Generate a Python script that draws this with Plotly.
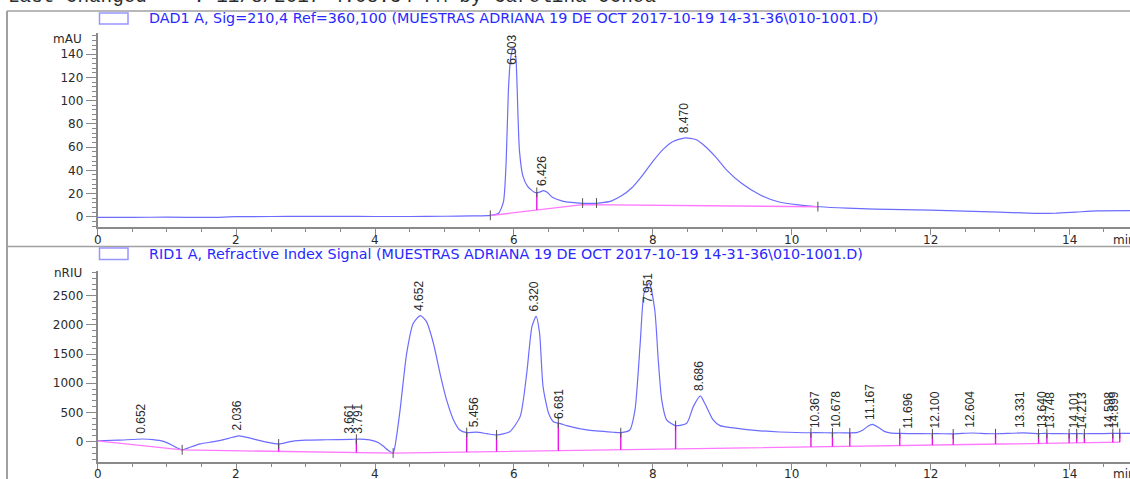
import numpy as np
import plotly.graph_objects as go

# ---------------- DAD1 A, 210 nm (mAU) ----------------
dad_time = [0.0, 0.5, 1.0, 1.6, 2.0, 2.5, 3.0, 3.5, 4.0, 4.5, 5.0, 5.4, 5.66, 5.78,
            5.85, 5.89, 5.92, 5.95, 5.98, 6.003, 6.03, 6.06, 6.08, 6.13, 6.20, 6.30,
            6.36, 6.426, 6.48, 6.56, 6.70, 6.90, 7.10, 7.25, 7.40, 7.55, 7.70, 7.85,
            8.00, 8.15, 8.30, 8.470, 8.62, 8.75, 8.90, 9.07, 9.28, 9.55, 9.81, 10.1,
            10.4, 10.8, 11.2, 11.6, 12.0, 12.5, 13.0, 13.5, 13.8, 14.1, 14.4, 14.88]
dad_signal = [-0.6, -0.5, -0.4, -0.6, 0.0, 0.2, 0.3, 0.3, 0.2, 0.2, 0.4, 0.7, 1.2, 3.0,
              13.0, 50.0, 108.0, 135.0, 144.0, 146.0, 136.0, 85.0, 57.0, 35.0, 26.0, 21.0,
              21.0, 22.5, 21.0, 16.5, 13.5, 12.0, 11.5, 12.0, 13.5, 18.0, 25.0, 35.5,
              47.5, 58.0, 65.0, 68.0, 66.5, 61.0, 52.0, 40.0, 28.8, 18.7, 12.9, 10.2,
              8.6, 7.4, 6.6, 6.1, 5.6, 4.8, 4.0, 2.9, 3.0, 4.0, 5.0, 5.2]
dad_base_time = [5.66, 6.99, 10.38]
dad_base_signal = [1.0, 10.4, 8.6]
dad_drop_times = [6.33]
dad_mark_times = [5.66, 6.99, 7.19, 10.38]
dad_peak_labels = ["6.003", "6.426", "8.470"]

# ---------------- RID1 A, refractive index (nRIU) ----------------
rid_time = [0.0, 0.3, 0.652, 0.80, 0.95, 1.07, 1.15, 1.22, 1.30, 1.48, 1.68, 1.89,
            2.036, 2.20, 2.40, 2.61, 2.80, 3.00, 3.30, 3.661, 3.791, 3.95, 4.05, 4.12,
            4.19, 4.26, 4.31, 4.36, 4.455, 4.55, 4.652, 4.74, 4.84, 4.935, 5.03, 5.13,
            5.22, 5.32, 5.456, 5.61, 5.75, 5.94, 6.09, 6.185, 6.26, 6.320, 6.37, 6.42,
            6.50, 6.57, 6.681, 6.76, 7.05, 7.43, 7.54, 7.67, 7.745, 7.82, 7.875, 7.951,
            8.03, 8.08, 8.13, 8.20, 8.33, 8.49, 8.585, 8.686, 8.75, 8.87, 8.97, 9.13,
            9.55, 9.83, 10.28, 10.367, 10.59, 10.678, 10.84, 10.95, 11.03, 11.10, 11.167,
            11.25, 11.33, 11.42, 11.56, 11.696, 12.03, 12.10, 12.33, 12.604, 12.80, 12.94,
            13.331, 13.56, 13.64, 13.748, 14.00, 14.101, 14.213, 14.40, 14.598, 14.75, 14.88]
rid_signal = [15, 25, 45, 35, 5, -57, -110, -140, -110, -39, 0, 57,
              100, 60, 0, -40, 5, 25, 32, 40, 42, 22, -20, -80,
              -150, -195, 100, 543, 1513, 2027, 2160, 2055, 1685, 1171, 714, 372,
              200, 155, 162, 137, 115, 171, 428, 1171, 1969, 2145, 1856, 942,
              486, 342, 305, 274, 200, 161, 154, 200, 543, 1685, 2541, 2720,
              2255, 1399, 714, 372, 274, 314, 600, 785, 657, 372, 274, 240,
              185, 165, 152, 155, 150, 152, 150, 158, 200, 265, 295,
              245, 180, 150, 140, 138, 135, 137, 133, 148, 138, 135,
              150, 138, 140, 138, 135, 137, 135, 137, 140, 141, 141]
rid_base_time = [0.0, 1.22, 4.26, 14.73]
rid_base_signal = [12, -142, -197, -10]
rid_drop_times = [2.61, 3.73, 5.32, 5.75, 6.64, 7.54, 8.33, 10.28, 10.59, 10.84,
                  11.56, 12.03, 12.33, 12.94, 13.56, 13.68, 14.00, 14.11, 14.22,
                  14.63, 14.73]
rid_mark_times = [1.22, 4.26]
rid_peak_labels = ["0.652", "2.036", "3.661", "3.791", "4.652", "5.456", "6.320",
                   "6.681", "7.951", "8.686", "10.367", "10.678", "11.167", "11.696",
                   "12.100", "12.604", "13.331", "13.640", "13.748", "14.101",
                   "14.213", "14.598", "14.899"]

x_ticks = [0, 2, 4, 6, 8, 10, 12, 14]
dad_y_ticks = [0, 20, 40, 60, 80, 100, 120, 140]
rid_y_ticks = [0, 500, 1000, 1500, 2000, 2500]

dad_title = "DAD1 A, Sig=210,4 Ref=360,100 (MUESTRAS ADRIANA 19 DE OCT 2017-10-19 14-31-36\\010-1001.D)"
rid_title = "RID1 A, Refractive Index Signal (MUESTRAS ADRIANA 19 DE OCT 2017-10-19 14-31-36\\010-1001.D)"
header = "Last changed    : 11/8/2017 4:08:34 PM by Carolina Ochoa"

# ---------------- page geometry (pixels) ----------------
W, H = 1130, 479
AX_LEFT = 97.5
PX_PER_MIN = 69.4
TOP_Y0, TOP_Y1 = 32.7, 226.7      # top panel plot area (rows from page top)
BOT_Y0, BOT_Y1 = 270.7, 461.6     # bottom panel plot area
DAD_RANGE = [-8.6, 158.6]
RID_RANGE = [-342, 2928]
X_RANGE = [0, (W - AX_LEFT) / PX_PER_MIN]

TRACE_COL = "rgb(108,108,255)"
BASE_COL = "rgb(255,120,255)"
DROP_COL = "rgb(232,20,232)"
AXIS_COL = "#8a8a8a"
TEXT_COL = "#2a2a2a"
TITLE_COL = "rgb(40,40,255)"
FRAME_COL = "#a0a0a0"


def py(p):
    """page row -> paper fraction"""
    return 1 - p / H


def px(p):
    return p / W


fig = go.Figure()


def add_panel(xa, ya, t, s, bt, bs, drops, marks):
    fig.add_trace(go.Scatter(x=t, y=s, mode="lines", xaxis=xa, yaxis=ya,
                             line=dict(color=TRACE_COL, width=1.2, shape="spline", smoothing=0.6),
                             hoverinfo="skip"))
    fig.add_trace(go.Scatter(x=bt, y=bs, mode="lines", xaxis=xa, yaxis=ya,
                             line=dict(color=BASE_COL, width=1.3), hoverinfo="skip"))
    dx, dy = [], []
    for d in drops:
        dx += [d, d, None]
        dy += [float(np.interp(d, t, s)), float(np.interp(d, bt, bs)), None]
    fig.add_trace(go.Scatter(x=dx, y=dy, mode="lines", xaxis=xa, yaxis=ya,
                             line=dict(color=DROP_COL, width=1.4), hoverinfo="skip"))
    # short dark event ticks where peaks start / end on the signal
    ticks_at = list(marks) + list(drops)
    fig.add_trace(go.Scatter(x=ticks_at, y=[float(np.interp(m, t, s)) for m in ticks_at],
                             mode="markers", xaxis=xa, yaxis=ya,
                             marker=dict(symbol="line-ns", size=7,
                                         line=dict(color="#505050", width=1)),
                             hoverinfo="skip"))


add_panel("x", "y", dad_time, dad_signal, dad_base_time, dad_base_signal,
          dad_drop_times, dad_mark_times)
add_panel("x2", "y2", rid_time, rid_signal, rid_base_time, rid_base_signal,
          rid_drop_times, rid_mark_times)

annotations = []
label_font = dict(family="Liberation Sans", size=12, color=TEXT_COL)


def label_len_px(txt, size=12):
    return sum(0.278 * size if c == "." else 0.556 * size for c in txt) + 2


def add_peak_labels(labels, t, s, xref, yref, yr, y0px, y1px):
    scale = (y1px - y0px) / (yr[1] - yr[0])
    for lab in labels:
        rt = float(lab)
        xpos = min(rt, 14.68)
        yv = float(np.interp(rt, t, s))
        top_needed = yv + (3 + label_len_px(lab)) / scale
        if top_needed > yr[1]:
            annotations.append(dict(x=xpos, y=yr[1], xref=xref, yref=yref, text=lab,
                                    textangle=-90, showarrow=False, xanchor="center",
                                    yanchor="top", xshift=-2, font=label_font))
        else:
            annotations.append(dict(x=xpos, y=yv, xref=xref, yref=yref, text=lab,
                                    textangle=-90, showarrow=False, xanchor="center",
                                    yanchor="bottom", yshift=3, xshift=-2, font=label_font))


add_peak_labels(dad_peak_labels, dad_time, dad_signal, "x", "y", DAD_RANGE, TOP_Y0, TOP_Y1)
add_peak_labels(rid_peak_labels, rid_time, rid_signal, "x2", "y2", RID_RANGE, BOT_Y0, BOT_Y1)

tick_font = dict(family="DejaVu Sans", size=12, color=TEXT_COL)

# time-axis numbers under each panel, "min" at the axis end
for xref, ypix in (("x", 239.5), ("x2", 474.0)):
    for v in x_ticks:
        annotations.append(dict(x=v, y=py(ypix), xref=xref, yref="paper", text=str(v),
                                showarrow=False, xanchor="center", yanchor="middle",
                                font=tick_font))
    annotations.append(dict(x=px(1111), y=py(ypix), xref="paper", yref="paper", text="min",
                            showarrow=False, xanchor="left", yanchor="middle", font=tick_font))

# unit captions at the top of each y axis
for txt, ypix in (("mAU", 39.3), ("nRIU", 273.3)):
    annotations.append(dict(x=px(84), y=py(ypix), xref="paper", yref="paper", text=txt,
                            showarrow=False, xanchor="right", yanchor="middle", font=tick_font))

# signal descriptions next to the legend swatches
for txt, ypix in ((dad_title, 18.0), (rid_title, 254.0)):
    annotations.append(dict(x=px(147), y=py(ypix), xref="paper", yref="paper", text=txt,
                            showarrow=False, xanchor="left", yanchor="middle",
                            font=dict(family="DejaVu Sans", size=14.3, color=TITLE_COL)))

# report header line
annotations.append(dict(x=px(6), y=py(-3.0), xref="paper", yref="paper",
                        text=header.replace(" ", "&nbsp;"),
                        showarrow=False, xanchor="left", yanchor="middle",
                        font=dict(family="Liberation Mono", size=19.3, color=TEXT_COL)))

shapes = [
    dict(type="line", xref="paper", yref="paper", x0=px(7), x1=px(7), y0=0, y1=py(11),
         line=dict(color=FRAME_COL, width=2)),
    dict(type="line", xref="paper", yref="paper", x0=px(7), x1=1, y0=py(11), y1=py(11),
         line=dict(color=FRAME_COL, width=1.5)),
    dict(type="line", xref="paper", yref="paper", x0=px(7), x1=1, y0=py(246.5), y1=py(246.5),
         line=dict(color=FRAME_COL, width=1.5)),
    dict(type="rect", xref="paper", yref="paper", x0=px(99.5), x1=px(128), y0=py(24), y1=py(13),
         line=dict(color="rgb(150,150,255)", width=1.5)),
    dict(type="rect", xref="paper", yref="paper", x0=px(99.5), x1=px(128), y0=py(259.5), y1=py(248),
         line=dict(color="rgb(150,150,255)", width=1.5)),
]

xaxis_common = dict(range=X_RANGE, domain=[px(AX_LEFT), 1], showline=True, linecolor=AXIS_COL,
                    linewidth=1.5, ticks="outside", ticklen=7, tickcolor=AXIS_COL, tickwidth=1,
                    tickvals=x_ticks, showticklabels=False, automargin=False,
                    showgrid=False, zeroline=False, fixedrange=True,
                    minor=dict(dtick=0.5, tick0=0, ticks="outside", ticklen=4,
                               tickcolor=AXIS_COL, showgrid=False))

yaxis_common = dict(showline=True, linecolor=AXIS_COL, linewidth=1.5, ticks="outside",
                    ticklen=10, tickcolor=AXIS_COL, tickwidth=1, tickfont=tick_font,
                    showgrid=False, zeroline=False, automargin=False, fixedrange=True)

fig.update_layout(
    width=W, height=H, margin=dict(l=0, r=0, t=0, b=0, autoexpand=False),
    paper_bgcolor="white", plot_bgcolor="white", showlegend=False,
    xaxis=dict(anchor="y", **xaxis_common),
    xaxis2=dict(anchor="y2", **xaxis_common),
    yaxis=dict(anchor="x", domain=[py(TOP_Y1), py(TOP_Y0)], range=DAD_RANGE,
               tickvals=dad_y_ticks, ticktext=[str(v) for v in dad_y_ticks],
               minor=dict(dtick=4, tick0=0, ticks="outside", ticklen=4,
                          tickcolor=AXIS_COL, showgrid=False),
               **yaxis_common),
    yaxis2=dict(anchor="x2", domain=[py(BOT_Y1), py(BOT_Y0)], range=RID_RANGE,
                tickvals=rid_y_ticks, ticktext=[str(v) for v in rid_y_ticks],
                minor=dict(dtick=100, tick0=0, ticks="outside", ticklen=4,
                           tickcolor=AXIS_COL, showgrid=False),
                **yaxis_common),
    annotations=annotations,
    shapes=shapes,
)

fig.write_html("out.html")
